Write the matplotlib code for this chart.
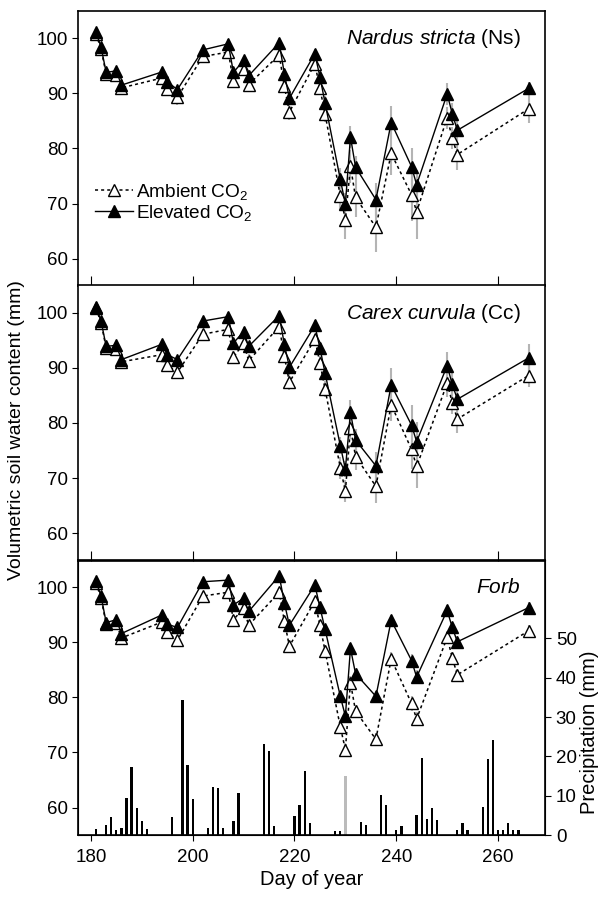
import numpy as np
import matplotlib
matplotlib.use("Agg")
from matplotlib import pyplot as plt

plt.rcParams['font.family'] = ['Liberation Sans', 'DejaVu Sans']
plt.rcParams['mathtext.fontset'] = 'custom'
plt.rcParams['mathtext.rm'] = 'Liberation Sans'
plt.rcParams['mathtext.it'] = 'Liberation Sans:italic'

# sampling days (day of year)
days = [181, 182, 183, 185, 186, 194, 195, 197, 202, 207, 208, 210, 211, 217, 218, 219,
        224, 225, 226, 229, 230, 231, 232, 236, 239, 243, 244, 250, 251, 252, 266]

# Nardus stricta
ns_elev = [101.1, 98.4, 93.8, 94.1, 91.5, 93.9, 92.1, 90.7, 97.9, 99.0, 93.8, 96.0, 93.2, 99.2, 93.6, 89.1,
           97.2, 93.0, 88.3, 74.4, 69.9, 82.1, 76.6, 70.7, 84.7, 76.7, 73.4, 89.9, 86.3, 83.3, 90.9]
ns_amb = [100.8, 98.0, 93.5, 93.3, 91.0, 92.8, 90.8, 89.3, 96.7, 97.5, 92.2, 94.5, 91.6, 97.0, 91.3, 86.6,
          95.4, 90.9, 86.3, 71.4, 67.1, 76.8, 71.1, 65.7, 79.1, 71.6, 68.5, 85.6, 81.9, 78.9, 87.2]
ns_elev_se = [0.6, 0.6, 0.5, 0.6, 0.6, 0.6, 0.6, 0.7, 0.8, 0.8, 0.8, 0.8, 0.8, 0.8, 0.9, 1.0,
              0.9, 1.0, 1.2, 2.0, 2.0, 2.0, 2.0, 3.0, 3.0, 3.3, 2.6, 2.0, 2.0, 2.0, 1.2]
ns_amb_se = [0.8, 0.8, 0.8, 0.8, 1.0, 1.0, 1.0, 1.5, 1.0, 1.0, 1.2, 1.0, 1.2, 1.0, 1.2, 1.5,
             1.0, 1.2, 1.5, 2.5, 3.5, 3.0, 3.5, 4.5, 4.0, 4.7, 5.0, 2.0, 2.0, 2.8, 2.5]

# Carex curvula
cc_elev = [101.1, 98.5, 93.9, 94.1, 91.5, 94.3, 92.4, 91.5, 98.5, 99.3, 94.5, 96.6, 93.9, 99.5, 94.3, 90.1,
           97.7, 93.6, 89.1, 75.9, 71.6, 81.9, 76.9, 72.2, 86.9, 79.6, 76.6, 90.4, 87.0, 84.3, 91.8]
cc_amb = [100.8, 98.2, 93.6, 93.5, 91.1, 92.4, 90.5, 89.2, 96.1, 97.0, 91.9, 94.5, 91.3, 97.5, 92.1, 87.4,
          95.2, 90.9, 86.2, 71.9, 67.6, 79.1, 73.9, 68.5, 83.3, 75.2, 72.1, 87.2, 83.7, 80.7, 88.6]
cc_elev_se = [0.6, 0.6, 0.5, 0.6, 0.6, 0.6, 0.6, 0.7, 0.8, 0.8, 0.8, 0.8, 0.8, 0.8, 0.9, 1.0,
              0.9, 1.0, 1.2, 1.5, 1.5, 2.3, 2.0, 2.5, 3.0, 3.6, 3.5, 2.5, 2.0, 2.0, 2.5]
cc_amb_se = [0.8, 0.8, 0.8, 0.8, 1.0, 1.0, 1.0, 1.2, 1.0, 1.0, 1.2, 1.0, 1.2, 1.0, 1.2, 1.5,
             1.0, 1.2, 1.5, 2.0, 2.0, 2.0, 2.5, 3.0, 3.0, 3.6, 4.0, 2.5, 2.0, 2.5, 2.0]

# Forb
fb_elev = [101.1, 98.4, 93.6, 94.1, 91.6, 95.0, 93.3, 92.7, 101.0, 101.3, 96.8, 98.0, 95.6, 102.1, 97.2, 93.1,
           100.4, 96.4, 92.4, 80.2, 76.6, 88.9, 84.3, 80.2, 94.0, 86.7, 83.7, 95.8, 92.7, 90.1, 96.3]
fb_amb = [100.8, 98.0, 93.3, 93.5, 90.8, 93.7, 91.8, 90.4, 98.4, 99.1, 94.1, 96.2, 93.1, 99.1, 93.9, 89.3,
          97.5, 93.1, 88.5, 74.7, 70.5, 82.7, 77.5, 72.4, 87.0, 78.9, 76.1, 90.9, 87.2, 84.1, 92.1]
fb_elev_se = [0.5, 0.5, 0.5, 0.5, 0.6, 0.6, 0.6, 0.6, 0.7, 0.7, 0.7, 0.7, 0.7, 0.7, 0.8, 0.8,
              0.8, 0.8, 0.9, 1.0, 1.0, 1.0, 1.0, 1.0, 1.0, 1.2, 1.2, 1.0, 1.0, 1.0, 1.0]
fb_amb_se = [0.6, 0.6, 0.6, 0.6, 0.8, 0.8, 0.8, 0.8, 0.8, 0.8, 0.8, 0.8, 0.8, 0.8, 0.8, 1.0,
             0.8, 0.9, 1.0, 1.2, 1.2, 1.2, 1.2, 1.2, 1.2, 1.3, 1.3, 1.0, 1.0, 1.0, 1.0]

# daily precipitation (mm)
rain_days = [181, 183, 184, 185, 186, 187, 188, 189, 190, 191, 196, 198, 199, 200, 203, 204, 205, 206,
             208, 209, 214, 215, 216, 220, 221, 222, 223, 228, 229, 230, 233, 234, 237, 238, 240, 241,
             244, 245, 246, 247, 248, 252, 253, 254, 257, 258, 259, 260, 261, 262, 263, 264]
rain_mm = [1.5, 2.5, 4.5, 1.3, 1.7, 9.4, 17.2, 6.8, 3.6, 1.5, 4.5, 34.3, 17.9, 9.2, 1.7, 12.2, 11.9, 1.7,
           3.6, 10.6, 23.2, 21.3, 2.3, 4.8, 7.7, 16.2, 3.0, 1.0, 1.0, 14.9, 3.4, 2.6, 10.2, 7.7, 1.4, 2.3,
           5.1, 19.6, 4.0, 6.8, 3.8, 1.3, 3.0, 1.3, 7.1, 19.3, 24.2, 1.4, 1.4, 3.0, 1.4, 1.3]
grey_day = 230

panels = [
    (r'$\mathit{Nardus\ stricta}$ (Ns)', ns_amb, ns_amb_se, ns_elev, ns_elev_se),
    (r'$\mathit{Carex\ curvula}$ (Cc)', cc_amb, cc_amb_se, cc_elev, cc_elev_se),
    (r'$\mathit{Forb}$', fb_amb, fb_amb_se, fb_elev, fb_elev_se),
]

fig = plt.figure(figsize=(6.06, 8.97), dpi=100)
x0, w = 0.129, 0.771
bottoms = [0.681, 0.375, 0.069]
h = 0.307

axes = []
for i, (title, amb, amb_se, elev, elev_se) in enumerate(panels):
    ax = fig.add_axes([x0, bottoms[i], w, h])
    axes.append(ax)
    ax.errorbar(days, amb, yerr=amb_se, fmt='none', ecolor='#b4b4b4', elinewidth=1.5, capsize=0, zorder=1)
    ax.errorbar(days, elev, yerr=elev_se, fmt='none', ecolor='#b4b4b4', elinewidth=1.5, capsize=0, zorder=1)
    ax.plot(days, amb, color='black', linestyle=(0, (2, 2)), linewidth=1.1, marker='^', markersize=8,
            markerfacecolor='white', markeredgecolor='black', markeredgewidth=1.0,
            label=r'Ambient CO$_\mathregular{2}$', zorder=3)
    ax.plot(days, elev, color='black', linestyle='-', linewidth=1.0, marker='^', markersize=8,
            markerfacecolor='black', markeredgecolor='black',
            label=r'Elevated CO$_\mathregular{2}$', zorder=4)
    ax.set_xlim(177.5, 269.3)
    ax.set_ylim(55, 105)
    ax.set_yticks([60, 70, 80, 90, 100])
    ax.set_xticks([180, 200, 220, 240, 260])
    ax.tick_params(axis='y', direction='out', length=4, labelsize=13.5)
    ax.text(0.947, 0.899, title, transform=ax.transAxes, ha='right', va='center', fontsize=15)
    for s in ax.spines.values():
        s.set_linewidth(1.2)
    if i < 2:
        ax.tick_params(axis='x', direction='in', length=7, labelbottom=False)
    else:
        ax.tick_params(axis='x', direction='out', length=4, pad=6, labelsize=13.5)

axes[0].legend(loc='upper left', bbox_to_anchor=(0.0, 0.44), frameon=False, fontsize=13.7,
               handlelength=2.0, handletextpad=0.15, labelspacing=0.05)

# precipitation on a secondary axis in the bottom panel
ax3 = axes[2]
axp = ax3.twinx()
colors = ['#bbbbbb' if d == grey_day else 'black' for d in rain_days]
axp.bar(rain_days, rain_mm, width=0.45, color=colors, zorder=1)
axp.set_ylim(0, 70)
axp.set_yticks([0, 10, 20, 30, 40, 50])
axp.tick_params(axis='y', direction='out', length=4, labelsize=13.5)
axp.set_ylabel('Precipitation (mm)', fontsize=14.5)
axp.yaxis.set_label_coords(1.075, 0.375)
ax3.set_zorder(axp.get_zorder() + 1)
ax3.patch.set_visible(False)
ax3.set_xlabel('Day of year', fontsize=14.5, labelpad=3)

fig.text(0.028, 0.52, 'Volumetric soil water content (mm)', rotation=90, ha='center', va='center',
         fontsize=14)

fig.savefig('out.png', dpi=100)
